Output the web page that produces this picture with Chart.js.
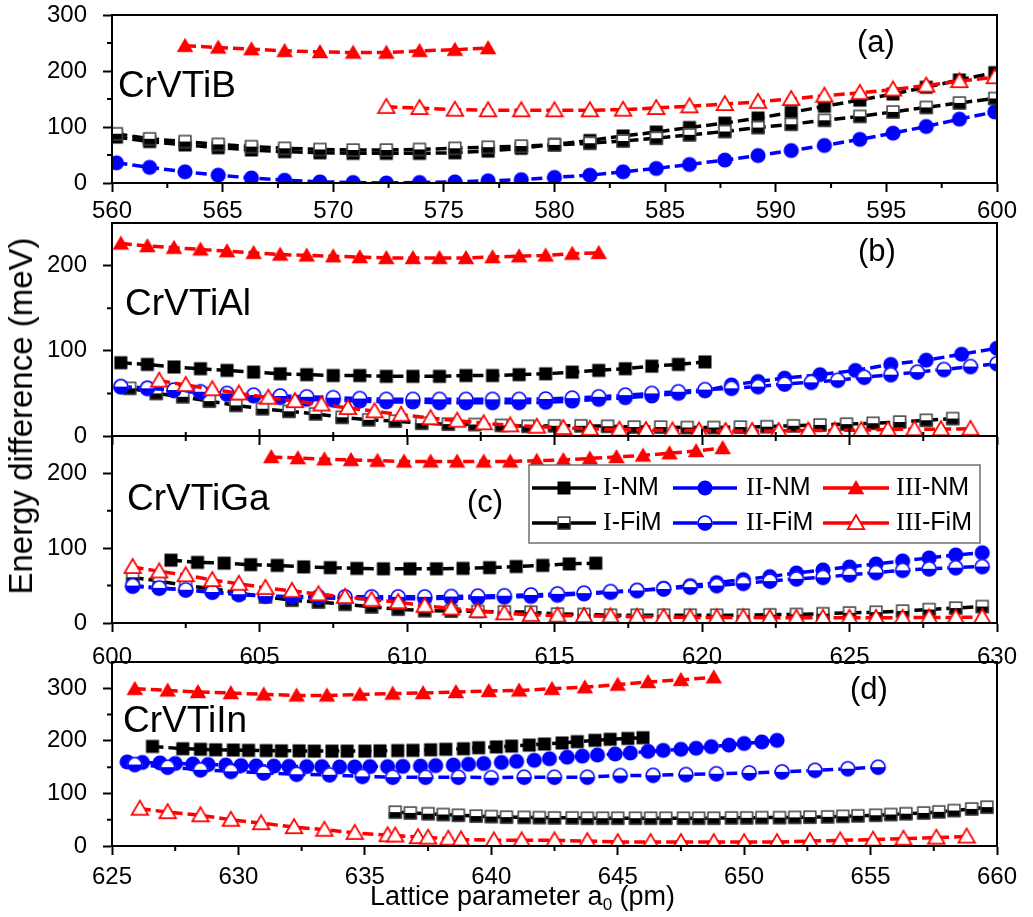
<!DOCTYPE html>
<html>
<head>
<meta charset="utf-8">
<title>Energy difference vs lattice parameter</title>
<script src="https://cdn.jsdelivr.net/npm/chart.js@4.4.0/dist/chart.umd.min.js"></script>
<style>
  html, body { margin: 0; padding: 0; background: #fff; }
  #wrap { position: relative; width: 1033px; height: 917px; overflow: hidden;
          font-family: "Liberation Sans", Arial, sans-serif; color: #000; }
  #wrap canvas { position: absolute; left: 0; }
  #ytitle { position: absolute; left: 21px; top: 416px; font-size: 33px; white-space: nowrap;
            transform: translate(-50%, -50%) rotate(-90deg); }
  #xtitle { position: absolute; left: 370px; top: 883px; font-size: 27px; line-height: 27px; white-space: nowrap; }
  #xtitle sub { font-size: 17px; vertical-align: -5px; }
</style>
</head>
<body>
<div id="wrap">
  <canvas id="cA" width="1033" height="225" style="top:0px"></canvas>
  <canvas id="cB" width="1033" height="260" style="top:200px"></canvas>
  <canvas id="cC" width="1033" height="260" style="top:420px"></canvas>
  <canvas id="cD" width="1033" height="277" style="top:640px"></canvas>
  <div id="ytitle">Energy difference (meV)</div>
  <div id="xtitle">Lattice parameter a<sub>0</sub> (pm)</div>
</div>
<script>
// Series names, panel names and tags
const seriesNames = ['I-NM', 'II-NM', 'III-NM', 'I-FiM', 'II-FiM', 'III-FiM'];
const panelNames = ['CrVTiB', 'CrVTiAl', 'CrVTiGa', 'CrVTiIn'];
const panelTags = ['(a)', '(b)', '(c)', '(d)'];

// ---- panel (a) CrVTiB ----
const xA = [560.2, 561.7, 563.3, 564.8, 566.3, 567.8, 569.4, 570.9, 572.4, 573.9, 575.5, 577.0, 578.5, 580.0,
            581.6, 583.1, 584.6, 586.1, 587.7, 589.2, 590.7, 592.2, 593.8, 595.3, 596.8, 598.3, 599.9];
const aINM = [82, 74, 68, 63, 59, 56, 54, 53, 53, 53, 54, 57, 62, 69, 76, 84, 91, 99, 107, 116, 126, 137, 148, 159, 171, 184, 197];
const aIFiM = [88, 79, 74, 69, 65, 62, 60, 59, 59, 60, 62, 64, 66, 68, 71, 75, 80, 86, 92, 99, 105, 112, 119, 127, 135, 143, 151];
const aIINM = [36, 28, 20, 14, 9, 5, 2, 1, 0, 1, 2, 4, 6, 10, 14, 20, 26, 33, 41, 49, 58, 67, 78, 89, 101, 114, 127];
const xAIIINM = [563.3, 564.8, 566.3, 567.8, 569.4, 570.9, 572.4, 573.9, 575.5, 577.0];
const aIIINM = [245, 242, 239, 236, 234, 233, 233, 236, 238, 241];
const xAIIIFiM = [572.4, 573.9, 575.5, 577.0, 578.5, 580.0, 581.6, 583.1, 584.6, 586.1, 587.7, 589.2, 590.7,
                  592.2, 593.8, 595.3, 596.8, 598.3, 599.9];
const aIIIFiM = [136, 134, 131, 130, 130, 130, 130, 131, 134, 137, 141, 145, 150, 156, 161, 167, 174, 182, 189];

// ---- panel (b) CrVTiAl ----
const xB = [600.3, 601.2, 602.1, 603.0, 603.9, 604.8, 605.7, 606.6, 607.5, 608.4, 609.3, 610.2, 611.1, 612.0,
            612.9, 613.8, 614.7, 615.6, 616.5, 617.4, 618.3, 619.2, 620.1, 621.0, 621.9, 622.8, 623.7, 624.6,
            625.5, 626.4, 627.3, 628.2, 629.1, 630.0];
const bINM = [86, 84, 81, 79, 77, 75, 73, 72, 71, 71, 70, 70, 70, 71, 71, 72, 73, 75, 77, 79, 82, 84, 87];
const bIIINM = [226, 223, 221, 219, 217, 215, 213, 212, 211, 210, 209, 209, 209, 209, 210, 211, 212, 214, 215];
const bIIFiM = [58, 56, 54, 52, 50, 48, 47, 46, 45, 44, 43, 43, 43, 43, 43, 43, 43.5, 44.5, 46, 48, 50, 52, 54.5,
                56, 58, 61, 63, 65.5, 69, 72, 75, 78, 81.5, 85];
const xBIINM = [600.3, 601.2, 602.1, 603.0, 603.9, 604.8, 605.7, 606.6, 607.5, 608.4, 609.3, 610.2, 611.1, 612.0,
                612.9, 613.8, 614.7, 615.6, 616.5, 617.4, 618.3, 619.2, 620.1, 621.0, 621.9, 622.8, 624.0, 625.2,
                626.4, 627.6, 628.8, 630.0];
const bIINM = [58, 56, 53, 51, 49, 47, 45, 43, 42, 41, 40, 40, 39, 39, 39, 39, 39.5, 41, 43, 45, 47, 50, 53,
               60, 64, 68, 72, 77, 84, 89, 96, 103];
const xBIFiM = [600.6, 601.5, 602.4, 603.3, 604.2, 605.1, 606.0, 606.9, 607.8, 608.7, 609.6, 610.5, 611.4, 612.3,
                613.2, 614.1, 615.0, 615.9, 616.8, 617.7, 618.6, 619.5, 620.4, 621.3, 622.2, 623.1, 624.0, 624.9,
                625.8, 626.7, 627.6, 628.5];
const bIFiM = [56, 50, 46, 41, 36, 32, 29, 26, 22, 19, 17.5, 15, 14, 13.5, 12.5, 11.5, 12, 12, 11.5, 10.5, 10.5,
               10, 10, 10.5, 11, 12, 13, 14, 15, 16.5, 18.5, 20.5];
const xBIIIFiM = [601.6, 602.5, 603.4, 604.3, 605.3, 606.2, 607.1, 608.0, 608.9, 609.8, 610.8, 611.7, 612.6, 613.5,
                  614.4, 615.3, 616.2, 617.2, 618.1, 619.0, 619.9, 620.8, 621.7, 622.6, 623.6, 624.5, 625.4, 626.3,
                  627.2, 628.1, 629.1];
const bIIIFiM = [65, 60, 55, 50, 45, 41, 37, 33, 29, 25, 21, 18, 15, 12.5, 11, 9.5, 8.5, 7.5, 7, 6.5, 6.5, 6, 6,
                 6, 6.5, 6.5, 7, 7.5, 8, 8, 8.5];

// ---- panel (c) CrVTiGa ----
const xC = [600.7, 601.6, 602.5, 603.4, 604.3, 605.2, 606.1, 607.0, 607.9, 608.8, 609.7, 610.6, 611.5, 612.4,
            613.3, 614.2, 615.1, 616.0, 616.9, 617.8, 618.7, 619.6, 620.5, 621.4, 622.3, 623.2, 624.1, 625.0,
            625.9, 626.8, 627.7, 628.6, 629.5];
const cIINM = [49, 46.5, 44, 41, 38, 36, 34.5, 33.5, 33, 32.5, 32.5, 32.5, 33, 33.5, 34.5, 35.5, 37, 39, 41, 43.5,
               46.5, 50, 54, 58, 62, 67, 71, 75, 79, 83, 87, 91, 94];
const cIIFiM = [50, 47, 44.5, 41.5, 38.5, 36, 35.5, 35, 35, 35, 35, 35, 35.5, 36, 36.5, 37.5, 39, 40, 42, 43.5,
                45.5, 48, 50, 53, 56, 59, 61, 64.5, 67.5, 70.5, 72.5, 74, 75.5];
const cIFiM = [61, 56, 50, 46, 40, 35, 30.5, 28, 25, 21.5, 18.5, 16.5, 16, 15.5, 15, 14.5, 12, 11.5, 10.5, 10.5,
               10.5, 10.5, 10.5, 10.5, 11, 11.5, 12.5, 13.5, 14.5, 16, 18, 20, 22];
const cIIIFiM = [75, 69, 64, 57.5, 52.5, 47, 43, 38.5, 35, 31, 28, 23, 19.5, 16, 13, 11, 10, 9.5, 9, 8.5, 8, 7.5,
                 7.5, 7.5, 7, 7, 7, 7, 7, 7, 7.5, 7.5, 8];
const xCINM = [602.0, 602.9, 603.8, 604.7, 605.6, 606.5, 607.4, 608.3, 609.2, 610.1, 611.0, 611.9, 612.8, 613.7,
               614.6, 615.5, 616.4];
const cINM = [84, 81, 80, 78, 77, 75, 74, 73, 72.5, 72.5, 72.5, 73, 74, 75.5, 77, 79, 80];
const xCIIINM = [605.4, 606.3, 607.2, 608.1, 609.0, 609.9, 610.8, 611.7, 612.6, 613.5, 614.4, 615.3, 616.2, 617.1,
                 618.0, 618.9, 619.8, 620.7];
const cIIINM = [222, 220.5, 219, 218, 217, 216, 216, 216, 216, 216, 217, 218, 220, 222, 224, 227, 230, 234];

// ---- panel (d) CrVTiIn ----
const xDINM = [626.6, 627.8, 628.5, 629.1, 629.8, 630.4, 631.1, 631.7, 632.4, 633.0, 633.7, 634.3, 635.0, 635.6,
               636.3, 636.9, 637.6, 638.2, 638.9, 639.5, 640.2, 640.8, 641.5, 642.1, 642.8, 643.4, 644.1, 644.7,
               645.4, 646.0];
const dINM = [189.5, 185, 184, 183, 182.5, 182, 181.5, 181, 181, 180.5, 180.5, 180.5, 180.5, 181, 181.5, 182, 183,
              184, 185, 187, 188.5, 190, 192, 194, 196, 198.5, 201, 203, 204.5, 206];
const xDIINM = [625.6, 626.2, 626.9, 627.5, 628.2, 628.8, 629.5, 630.1, 630.7, 631.4, 632.0, 632.7, 633.3, 634.0,
                634.6, 635.2, 635.9, 636.5, 637.2, 637.8, 638.5, 639.1, 639.7, 640.4, 641.0, 641.7, 642.3, 643.0,
                643.6, 644.2, 644.9, 645.5, 646.2, 646.8, 647.5, 648.1, 648.7, 649.4, 650.0, 650.7, 651.3];
const dIINM = [160, 159, 158, 157, 156, 155, 154, 153, 152.5, 152, 151.5, 151, 151, 150.5, 150.5, 151, 151, 151.5,
               152, 153, 154, 155.5, 157, 159, 161, 163, 166, 169, 171, 173, 175, 177, 180, 182, 184, 186, 189,
               192, 195, 198, 201];
const xDIIINM = [625.9, 627.2, 628.4, 629.7, 631.0, 632.3, 633.5, 634.8, 636.1, 637.3, 638.6, 639.9, 641.1, 642.4,
                 643.7, 645.0, 646.2, 647.5, 648.8];
const dIIINM = [299, 296, 293, 291, 288.5, 286.5, 286.5, 288, 290, 291, 293, 295, 296, 299, 302, 307, 312, 316, 321];
const xDIFiM = [636.2, 636.8, 637.5, 638.1, 638.7, 639.4, 640.0, 640.6, 641.3, 641.9, 642.5, 643.2, 643.8, 644.4,
                645.0, 645.7, 646.3, 646.9, 647.6, 648.2, 648.8, 649.5, 650.1, 650.7, 651.4, 652.0, 652.6, 653.3,
                653.9, 654.5, 655.2, 655.8, 656.4, 657.1, 657.7, 658.3, 659.0, 659.6];
const dIFiM = [64.5, 63, 61.5, 60, 58.5, 57, 56, 55, 54.5, 54, 53.5, 53.5, 53, 53, 53, 53, 53, 53, 53, 53, 53,
               53.5, 53.5, 54, 54, 54.5, 55, 55.5, 56.5, 57.5, 58.5, 60, 61.5, 63, 65, 67.5, 70.5, 74];
const xDIIFiM = [625.9, 627.2, 628.5, 629.7, 631.0, 632.3, 633.6, 634.9, 636.1, 637.4, 638.7, 640.0, 641.3, 642.5,
                 643.8, 645.1, 646.4, 647.7, 648.9, 650.2, 651.5, 652.8, 654.1, 655.3];
const dIIFiM = [155, 150, 145, 142, 139, 136.5, 135.5, 132.5, 131, 131, 131, 130, 131, 131, 131, 134, 134.5, 136,
                137.5, 139, 141, 144, 147, 150];
const xDIIIFiM = [626.1, 627.2, 628.5, 629.7, 630.9, 632.2, 633.4, 634.6, 635.9, 636.2, 637.1, 637.5, 638.3, 638.8,
                  640.1, 641.2, 642.5, 643.8, 645.0, 646.3, 647.5, 648.8, 650.0, 651.3, 652.6, 653.8, 655.1, 656.3,
                  657.6, 658.8];
const dIIIFiM = [71, 64.5, 58.5, 50, 43.5, 36, 31, 25, 20.5, 20, 17, 16, 14, 12.5, 10.8, 10.8, 10.8, 9.5, 7.6, 7.6,
                 7.6, 7.6, 7.6, 7.6, 9.5, 10.8, 12.2, 14, 16, 18];

const BLACK = '#000000', BLUE = '#0000ff', RED = '#ff0000';
const FONT = '"Liberation Sans", Arial, sans-serif';

// Build marker images (Chart.js has no half-filled symbols)
function marker(kind, color) {
  const c = document.createElement('canvas');
  c.width = 20; c.height = 20;
  const g = c.getContext('2d');
  const m = 10;
  if (kind === 'square' || kind === 'halfsquare') {
    const s = 13, x0 = m - s / 2, y0 = m - s / 2;
    if (kind === 'square') {
      g.fillStyle = color; g.fillRect(x0, y0, s, s);
    } else {
      g.fillStyle = '#fff'; g.fillRect(x0, y0, s, s);
      g.fillStyle = color; g.fillRect(x0, m, s, s / 2);
      g.strokeStyle = '#333'; g.lineWidth = 1.4; g.strokeRect(x0 + 0.6, y0 + 0.6, s - 1.2, s - 1.2);
    }
  } else if (kind === 'circle' || kind === 'halfcircle') {
    const r = 7.6;
    if (kind === 'circle') {
      g.fillStyle = color; g.beginPath(); g.arc(m, m, r, 0, Math.PI * 2); g.fill();
    } else {
      g.fillStyle = '#fff'; g.beginPath(); g.arc(m, m, r, 0, Math.PI * 2); g.fill();
      g.fillStyle = color; g.beginPath(); g.arc(m, m, r, 0, Math.PI); g.closePath(); g.fill();
      g.strokeStyle = color; g.lineWidth = 1.5; g.beginPath(); g.arc(m, m, r - 0.7, 0, Math.PI * 2); g.stroke();
    }
  } else {
    g.beginPath();
    g.moveTo(m, m - 8); g.lineTo(m + 8.3, m + 6.2); g.lineTo(m - 8.3, m + 6.2); g.closePath();
    if (kind === 'triangle') {
      g.fillStyle = color; g.fill();
    } else {
      g.fillStyle = '#fff'; g.fill();
      g.strokeStyle = color; g.lineWidth = 1.7; g.stroke();
    }
  }
  return c;
}

const styles = {
  'I-NM':    { color: BLACK, mark: marker('square', BLACK) },
  'II-NM':   { color: BLUE,  mark: marker('circle', BLUE) },
  'III-NM':  { color: RED,   mark: marker('triangle', RED) },
  'I-FiM':   { color: BLACK, mark: marker('halfsquare', BLACK) },
  'II-FiM':  { color: BLUE,  mark: marker('halfcircle', BLUE) },
  'III-FiM': { color: RED,   mark: marker('opentriangle', RED) }
};

const pts = (xs, ys) => ys.map((y, i) => ({ x: xs[i], y: y }));

function series(name, xs, ys) {
  const st = styles[name];
  return {
    label: name,
    data: pts(xs, ys),
    borderColor: st.color,
    borderWidth: 3.5,
    borderDash: [11, 5],
    pointStyle: st.mark,
    pointRadius: 7,
    pointHoverRadius: 7,
    fill: false,
    tension: 0
  };
}

// Minor ticks, frame, panel labels and legend
function decoPlugin(cfg) {
  return {
    id: 'deco' + cfg.idx,
    afterDraw(chart) {
      const ctx = chart.ctx, a = chart.chartArea;
      const xs = chart.scales.x, ys = chart.scales.y;
      ctx.save();
      ctx.strokeStyle = '#000';
      ctx.lineWidth = 2;
      ctx.beginPath();
      for (let v = xs.min + 2.5; v < xs.max; v += 5) {
        const px = xs.getPixelForValue(v);
        ctx.moveTo(px, a.bottom); ctx.lineTo(px, a.bottom + 5);
      }
      for (let v = 50; v < ys.max; v += 100) {
        const py = ys.getPixelForValue(v);
        ctx.moveTo(a.left, py); ctx.lineTo(a.left - 5, py);
      }
      if (cfg.topTicks) {
        for (let v = xs.min; v <= xs.max; v += 2.5) {
          const px = xs.getPixelForValue(v);
          const len = (Math.round(v * 2) % 10 === 0) ? 7 : 4;
          ctx.moveTo(px, a.top); ctx.lineTo(px, a.top - len);
        }
      }
      ctx.stroke();
      ctx.strokeRect(a.left, a.top, a.right - a.left, a.bottom - a.top);

      const off = cfg.top;
      ctx.fillStyle = '#000';
      ctx.textBaseline = 'alphabetic';
      ctx.textAlign = 'left';
      ctx.font = '37px ' + FONT;
      ctx.fillText(panelNames[cfg.idx], cfg.name[0], cfg.name[1] - off);
      ctx.font = '31px ' + FONT;
      ctx.fillText(panelTags[cfg.idx], cfg.tag[0], cfg.tag[1] - off);

      if (cfg.legend) drawLegend(ctx, off);
      ctx.restore();
    }
  };
}

function drawLegend(ctx, off) {
  const box = { l: 529, t: 465, r: 980, b: 543 };
  ctx.fillStyle = '#fff';
  ctx.fillRect(box.l, box.t - off, box.r - box.l, box.b - box.t);
  ctx.strokeStyle = '#707070';
  ctx.lineWidth = 1.5;
  ctx.setLineDash([]);
  ctx.strokeRect(box.l, box.t - off, box.r - box.l, box.b - box.t);
  const rows = [488, 523];
  const cols = [{ l: 532, r: 596, t: 603 }, { l: 673, r: 737, t: 746 }, { l: 823, r: 889, t: 896 }];
  seriesNames.forEach((name, i) => {
    const st = styles[name];
    const col = cols[i % 3], y = rows[Math.floor(i / 3)] - off;
    ctx.strokeStyle = st.color;
    ctx.lineWidth = 3.5;
    ctx.beginPath(); ctx.moveTo(col.l, y); ctx.lineTo(col.r, y); ctx.stroke();
    const mk = st.mark;
    ctx.drawImage(mk, (col.l + col.r) / 2 - mk.width / 2, y - mk.height / 2);
    const parts = name.split('-');
    ctx.fillStyle = '#000';
    ctx.textBaseline = 'middle';
    ctx.font = '26px "Liberation Serif", "Times New Roman", serif';
    ctx.fillText(parts[0], col.t, y);
    const w = ctx.measureText(parts[0]).width;
    ctx.font = '25px ' + FONT;
    ctx.fillText('-' + parts[1], col.t + w, y);
  });
}

function panel(canvasId, cfg, datasets) {
  const tickFont = { family: FONT, size: 24 };
  const gridOpts = { drawOnChartArea: false, drawTicks: true, tickLength: 9, tickWidth: 2, color: '#000' };
  new Chart(document.getElementById(canvasId), {
    type: 'line',
    data: { datasets: datasets },
    options: {
      responsive: false,
      animation: false,
      devicePixelRatio: 1,
      events: [],
      layout: { autoPadding: false, padding: { top: cfg.padTop, right: 36, left: 0, bottom: 0 } },
      plugins: { legend: { display: false }, tooltip: { enabled: false } },
      scales: {
        x: {
          type: 'linear', min: cfg.xMin, max: cfg.xMax,
          ticks: { stepSize: 5, display: cfg.xLabels, font: tickFont, color: '#000', padding: cfg.xPad || 5,
                   maxRotation: 0, autoSkip: false, includeBounds: false },
          grid: gridOpts,
          border: { display: true, width: 2, color: '#000' },
          afterFit: s => { s.height = cfg.xAxisH; s.paddingLeft = 0; s.paddingRight = 0; }
        },
        y: {
          type: 'linear', min: 0, max: cfg.yMax,
          ticks: { stepSize: 100, font: tickFont, color: '#000', padding: 16, includeBounds: false },
          grid: gridOpts,
          border: { display: true, width: 2, color: '#000' },
          afterFit: s => { s.width = 112; s.paddingTop = 0; s.paddingBottom = 0; }
        }
      }
    },
    plugins: [decoPlugin(cfg)]
  });
}

// datasets listed top-most first (Chart.js draws index 0 last)
panel('cA', { idx: 0, top: 0, padTop: 15, xAxisH: 42, xMin: 560, xMax: 600, yMax: 300, xLabels: true,
              name: [118, 97], tag: [857, 52] }, [
  series('III-FiM', xAIIIFiM, aIIIFiM),
  series('I-FiM', xA, aIFiM),
  series('II-NM', xA, aIINM),
  series('I-NM', xA, aINM),
  series('III-NM', xAIIINM, aIIINM)
]);

panel('cB', { idx: 1, top: 200, padTop: 23, xAxisH: 24, xMin: 600, xMax: 630, yMax: 250, xLabels: false,
              name: [125, 315], tag: [858, 261] }, [
  series('III-FiM', xBIIIFiM, bIIIFiM),
  series('II-FiM', xB, bIIFiM),
  series('I-FiM', xBIFiM, bIFiM),
  series('II-NM', xBIINM, bIINM),
  series('I-NM', xB, bINM),
  series('III-NM', xB, bIIINM)
]);

panel('cC', { idx: 2, top: 420, padTop: 16, xAxisH: 57, xMin: 600, xMax: 630, yMax: 250, xLabels: true,
              xPad: 11, topTicks: true, legend: true, name: [127, 510], tag: [467, 512] }, [
  series('III-FiM', xC, cIIIFiM),
  series('II-FiM', xC, cIIFiM),
  series('I-FiM', xC, cIFiM),
  series('II-NM', xC, cIINM),
  series('I-NM', xCINM, cINM),
  series('III-NM', xCIIINM, cIIINM)
]);

panel('cD', { idx: 3, top: 640, padTop: 22, xAxisH: 71, xMin: 625, xMax: 660, yMax: 350, xLabels: true,
              xPad: 8, name: [123, 732], tag: [850, 699] }, [
  series('III-FiM', xDIIIFiM, dIIIFiM),
  series('II-FiM', xDIIFiM, dIIFiM),
  series('I-FiM', xDIFiM, dIFiM),
  series('II-NM', xDIINM, dIINM),
  series('I-NM', xDINM, dINM),
  series('III-NM', xDIIINM, dIIINM)
]);
</script>
</body>
</html>
